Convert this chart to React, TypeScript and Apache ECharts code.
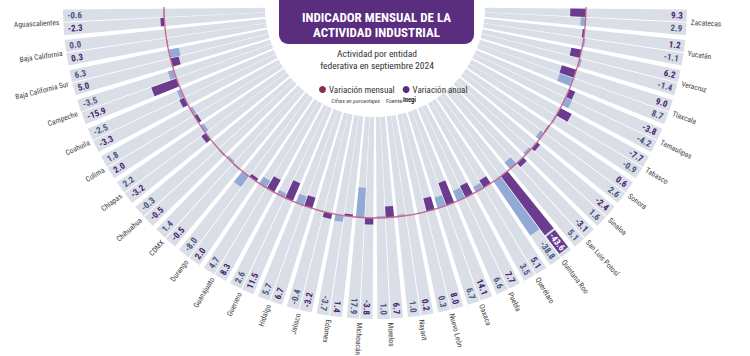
import React, { useEffect, useRef } from 'react';
import * as echarts from 'echarts';

const states = ['Aguascalientes', 'Baja California', 'Baja California Sur', 'Campeche', 'Coahuila', 'Colima', 'Chiapas', 'Chihuahua', 'CDMX', 'Durango', 'Guanajuato', 'Guerrero', 'Hidalgo', 'Jalisco', 'Edomex', 'Michoacán', 'Morelos', 'Nayarit', 'Nuevo León', 'Oaxaca', 'Puebla', 'Querétaro', 'Quintana Roo', 'San Luis Potosí', 'Sinaloa', 'Sonora', 'Tabasco', 'Tamaulipas', 'Tlaxcala', 'Veracruz', 'Yucatán', 'Zacatecas'];

const mensual = [-0.6, 0.0, 6.3, -3.5, -2.5, 1.8, 2.2, -0.3, 1.4, -8.0, 4.7, 2.6, 5.7, -0.4, -3.7, 17.9, 1.0, 1.0, 0.3, 6.7, 6.6, 3.5, -38.8, 5.1, 1.6, 2.6, -0.9, -4.2, 8.7, -1.4, -1.1, 2.9];
const anual = [-2.3, 0.3, 5.0, -15.9, -3.3, 2.0, -3.2, -0.5, -0.5, 2.0, 8.3, 11.5, 6.7, -3.2, 1.4, -3.8, 6.7, 0.2, 8.0, 14.1, 7.7, 5.1, -43.6, -3.1, -2.4, 0.6, -7.7, -3.8, 9.0, 6.2, 1.2, 9.3];

const titleLines = ['INDICADOR MENSUAL DE LA', 'ACTIVIDAD INDUSTRIAL'];
const subtitleLines = ['Actividad por entidad', 'federativa en septiembre 2024'];
const seriesNames = ['Variación mensual', 'Variación anual'];

const FONT = '"Liberation Sans Narrow", "Roboto Condensed", "Open Sans", sans-serif';
const C_BAND = '#d9dee7';
const C_MENSUAL = '#93a9d6';
const C_ANUAL = '#6b3b8e';
const C_LINE = '#c8678f';
const C_TITLE = '#5b2d7f';
const SPLIT = 14;

const labelItems: number[][] = [];
states.forEach((_, i) => {
  labelItems.push([i, 0, 0]);
  labelItems.push([i, 1, 0]);
  labelItems.push([i, 2, 0]);
});

export default function App() {
  const ref = useRef<HTMLDivElement>(null);
  useEffect(() => {
    const chart = echarts.init(ref.current!, null, { renderer: 'svg' });
    const SLOT = Math.PI / states.length;
    const OFF = 0.218 * SLOT;
    const option: any = {
      animation: false,
      backgroundColor: '#ffffff',
      polar: { center: [375, 7], radius: [110, 312] },
      angleAxis: {
        type: 'category', data: states, startAngle: 180, endAngle: 360, clockwise: false,
        boundaryGap: true,
        axisLine: { show: false }, axisTick: { show: false }, axisLabel: { show: false },
        splitLine: { show: false },
      },
      radiusAxis: {
        type: 'value', min: -60, max: 60, interval: 60, inverse: true, z: 4,
        axisLine: { show: false }, axisTick: { show: false }, axisLabel: { show: false },
        splitLine: { show: true, lineStyle: { color: ['rgba(0,0,0,0)', C_LINE, 'rgba(0,0,0,0)'], width: 1.3 } },
      },
      legend: {
        left: 314, top: 80, itemWidth: 7, itemHeight: 7, itemGap: 8, icon: 'circle',
        selectedMode: false,
        textStyle: { fontFamily: FONT, fontSize: 9, color: '#333', padding: [0, 0, 0, -2] },
        data: [
          { name: seriesNames[0], itemStyle: { color: '#8e2a57' } },
          { name: seriesNames[1], itemStyle: { color: '#5b2d82' } },
        ],
      },
      series: [
        {
          name: seriesNames[1], type: 'bar', coordinateSystem: 'polar', data: anual,
          barCategoryGap: '16%', barGap: '8%',
          itemStyle: { color: C_ANUAL },
          showBackground: true, backgroundStyle: { color: C_BAND },
        },
        {
          name: seriesNames[0], type: 'bar', coordinateSystem: 'polar', data: mensual,
          barCategoryGap: '16%', barGap: '8%',
          itemStyle: { color: C_MENSUAL },
          showBackground: true, backgroundStyle: { color: C_BAND },
        },
        {
          type: 'custom', coordinateSystem: 'polar', z: 6, silent: true,
          encode: { angle: 0, radius: 2 },
          data: labelItems,
          renderItem: (params: any, api: any) => {
            const i = api.value(0) as number;
            const kind = api.value(1) as number;
            const cs = params.coordSys;
            const outer = Math.max(cs.r, cs.r0);
            const p = api.coord([0, i]);
            let phi = Math.atan2(p[1] - cs.cy, p[0] - cs.cx);
            if (kind === 0) phi += OFF;
            else if (kind === 1) phi -= OFF;
            const inward = i < SPLIT;
            const rr = kind === 2 ? outer + 4 : outer - 4;
            const x = cs.cx + rr * Math.cos(phi);
            const y = cs.cy + rr * Math.sin(phi);
            const d = inward ? phi + Math.PI : phi;
            let align: string;
            if (kind === 2) align = inward ? 'right' : 'left';
            else align = inward ? 'left' : 'right';
            let text: string;
            let fill: string;
            let fontWeight = 'bold';
            let fontSize = 9;
            let extra: any = {};
            if (kind === 2) {
              text = states[i]; fill = '#444'; fontWeight = 'normal'; fontSize = 7.5;
            } else {
              const v = kind === 0 ? mensual[i] : anual[i];
              text = v.toFixed(1);
              fill = kind === 0 ? '#4b5682' : '#4a2470';
              if (kind === 1 && v < -40) {
                fill = '#ffffff';
                extra = { backgroundColor: C_ANUAL, padding: [1, 1, 1, 1] };
              }
            }
            return {
              type: 'text', x, y, rotation: -d,
              style: Object.assign({
                text, x: 0, y: 0, fill, fontSize, fontFamily: FONT, fontWeight,
                align, textAlign: align, verticalAlign: 'middle', textVerticalAlign: 'middle',
              }, extra),
            };
          },
        },
      ],
      graphic: [
        { type: 'rect', z: 20, shape: { x: 279, y: -12, width: 195, height: 56, r: 9 }, style: { fill: C_TITLE } },
        { type: 'text', z: 21, x: 376.5, y: 17, style: { text: titleLines[0], fill: '#fff', fontSize: 13, fontWeight: 'bold', fontFamily: FONT, textAlign: 'center', textVerticalAlign: 'middle' } },
        { type: 'text', z: 21, x: 376.5, y: 32, style: { text: titleLines[1], fill: '#fff', fontSize: 13, fontWeight: 'bold', fontFamily: FONT, textAlign: 'center', textVerticalAlign: 'middle' } },
        { type: 'text', z: 21, x: 377, y: 53, style: { text: subtitleLines[0], fill: '#333', fontSize: 9.5, fontFamily: FONT, textAlign: 'center', textVerticalAlign: 'middle' } },
        { type: 'text', z: 21, x: 377, y: 65, style: { text: subtitleLines[1], fill: '#333', fontSize: 9.5, fontFamily: FONT, textAlign: 'center', textVerticalAlign: 'middle' } },
        { type: 'text', z: 21, x: 380, y: 100, style: { text: 'Cifras en porcentajes', fill: '#444', fontSize: 6, fontStyle: 'italic', fontFamily: FONT, textAlign: 'right', textVerticalAlign: 'middle' } },
        { type: 'text', z: 21, x: 386, y: 100, style: { text: 'Fuente:', fill: '#444', fontSize: 6, fontFamily: FONT, textAlign: 'left', textVerticalAlign: 'middle' } },
        { type: 'text', z: 21, x: 403, y: 100, style: { text: 'Inegi', fill: '#222', fontSize: 6.5, fontWeight: 'bold', fontFamily: FONT, textAlign: 'left', textVerticalAlign: 'middle' } },
      ],
    };
    chart.setOption(option);
    return () => chart.dispose();
  }, []);
  return <div ref={ref} style={{ position: 'absolute', left: 0, top: 0, width: 750, height: 356, background: '#fff' }} />;
}
